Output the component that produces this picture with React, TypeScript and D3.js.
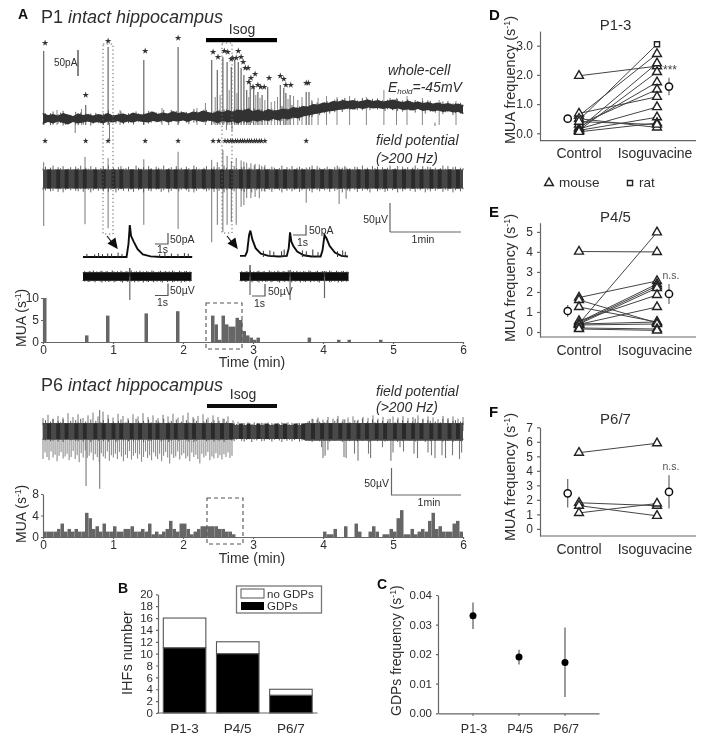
import React, { useEffect, useRef } from "react";
import * as d3 from "d3";

const W = 707, H = 744;
const FONT = "'Liberation Sans', Arial, sans-serif";
const INK = "#2e2e2e";

// ---- panel A, P1 traces (time in min, whole-cell in pA, field in uV)
const wcTop = [24,20,22,19,24,21,18,23,20,22,19,22,20,24,19,21,23,20,25,22,21,24,27,22,25,23,28,24,26,23,27,25,29,26,24,28,26,30,27,31,29,33,28,31,27,32,29,30,33,31,36,34,38,37,42,41,45,44,48,47,50,48,50,47,49,51,48,50,47,49,51,48,46,49,45,47,44,46,43,45,42,44,41,43,40];
const wcBot = [2,6,3,7,4,1,6,3,5,7,4,6,3,7,5,8,4,7,5,8,6,5,8,6,9,5,8,7,9,6,10,8,6,9,7,4,8,5,7,3,8,5,9,7,10,8,12,9,13,11,15,13,17,19,21,23,25,27,28,30,31,33,31,34,32,35,33,34,32,34,31,33,30,31,29,32,28,30,27,29,26,28,25,26,22];
const fuzz = [3,7,1,5,9,2,6,4,8,1,3,6,2,7,4,9,1,5,3,8,2,6,1,4,7,3,9,2,5,1,6,8,3,4,7,1,2,9,5,3,6,2,8,4,1,7,5,3,9,2,4,6,1,8,3,5,2,7,4,1,9,6,3,2,5,8,1,4,7,3,6,2,9,5,1,3,8,4,2,6,7,1,5,3,9,2,4,8,6,1,3,7,5,2,4,9,1,6,3,8,2,5,7,4,1,3,6,9,2,8,5,1,4,7,3,2,6,9,1,5,8,3,4,2,7,6,1,9,3,5,2,8,4,7,1,6,3,5,9,2,4,8,1,7,3,6,2,5,9,4,1,8,3,7,6,2,5,1,4,9,3,8,2,6,7,1,5,4];
const wcSpikeT = [0.01,0.61,0.93,1.44,1.93,2.41,2.49,2.57,2.63,2.69,2.74,2.79,2.83,2.87,2.91,2.96,3.01,3.07,3.13,3.21,3.39,3.44,3.47,3.53,3.76,3.8];
const wcSpikeP = [148,40,156,130,156,130,110,136,126,116,130,126,114,100,70,84,76,66,60,76,80,74,64,60,66,66];
const wcGrassT = [0.2,0.55,1.1,1.7,2.2,2.32,2.46,2.53,2.66,2.77,2.94,3.04,3.1,3.17,3.26,3.31,3.35,3.5,3.58,3.64,3.7,3.84,3.93,4.05,4.2,4.38,4.62,4.87,5.05,5.2,5.42,5.66,5.9];
const wcGrassP = [30,32,30,34,34,44,56,60,70,64,56,60,54,50,46,48,56,52,58,50,56,50,54,58,56,58,56,70,54,58,54,50,48];
const wcDownT = [0.46,0.95,2.62,2.7,5.6];
const wcDownP = [-16,-30,-10,-12,-2];
const wcStarT = [0.03,0.61,0.93,1.46,1.93,2.43,2.5,2.59,2.64,2.69,2.71,2.76,2.79,2.83,2.86,2.89,2.93,2.94,2.97,3.03,3,3.07,3.11,3.16,3.23,3.39,3.44,3.47,3.54,3.76,3.79];
const wcStarP = [164,60,168,148,174,146,136,148,146,132,134,134,148,136,126,114,114,86,94,102,76,80,76,76,94,98,92,80,80,84,84];

const stripeT = [0.06,0.19,0.31,0.45,0.57,0.72,0.84,0.98,1.09,1.24,1.36,1.5,1.61,1.76,1.87,2.02,2.13,2.27,2.4,2.53,2.66,2.8,2.91,3.05,3.17,3.31,3.43,3.58,3.69,3.83,3.96,4.08,4.22,4.34,4.48,4.6,4.74,4.86,5,5.13,5.26,5.38,5.52,5.64,5.78,5.9];
const fpSpikeT = [0.01,0.6,0.93,1.44,1.93,2.41,2.49,2.57,2.63,2.69,2.76,2.83,2.87,2.91,2.97,3.03,3.09,3.17,3.76,4.23,4.33];
const fpSpikeUp = [29,38,36,34,47,33,29,50,40,31,36,32,30,28,27,26,25,24,20,20,20];
const fpSpikeDn = [-81,-78,-85,-79,-86,-109,-79,-91,-79,-74,-79,-48,-45,-33,-33,-31,-33,-22,-41,-43,-34];
const fpStarT = [0.03,0.61,0.93,1.46,1.93,2.43,2.51,2.6,2.64,2.68,2.71,2.75,2.78,2.82,2.85,2.88,2.92,2.95,2.98,3.02,3.05,3.09,3.12,3.17,3.76];

// ---- panel A insets (time in s, pA / uV)
const inLeftT = [0,3.35,3.5,3.6,3.7,3.9,4.2,4.6,5.2,6,8.4];
const inLeftP = [0,0,60,145,95,70,35,12,3,0,0];
const inLeftBumpT = [0.3,0.9,1.2,1.5,1.9,2.2,2.7,3,5.9,6.3,6.8,7.3,7.8,8.1];
const inLeftBumpP = [14,12,18,13,16,15,20,14,13,22,16,14,18,15];
const inRightT = [0,0.4,0.55,0.7,0.8,0.95,1.2,1.6,2.2,3,3.6,3.75,3.85,3.95,4.1,4.4,4.9,5.5,6.2,6.35,6.5,6.65,6.9,7.3,7.8,8.3];
const inRightP = [5,5,25,100,120,80,40,15,5,2,5,40,112,70,50,25,8,2,2,30,100,85,50,20,5,2];
const inRightBumpT = [1.8,2.3,2.6,3.2,3.4,4.8,5.1,5.6,6,7.5,7.9,8.1];
const inRightBumpP = [28,30,24,26,34,30,26,34,22,26,30,24];
const inLeftFieldT = [3.6];
const inLeftFieldUp = [35];
const inLeftFieldDn = [-98];
const inRightFieldT = [0.77,3.85,6.5];
const inRightFieldUp = [48,27,22];
const inRightFieldDn = [-77,-98,-90];

// ---- MUA histogram P1, 0.05 min bins
const muaP1T = [0,0.6,0.9,1.45,1.9,2.4,2.45,2.5,2.55,2.6,2.65,2.7,2.75,2.8,2.85,2.9,2.95,3,3.05,3.78,4.2,4.35,4.8];
const muaP1V = [10,1.5,6,6.5,7,6,4,0.5,6,4,3.5,3.5,5.5,5,2.5,1.5,1,0.5,1,1,0.5,0.5,0.5];

// ---- P6 field trace
const p6CoreT = [0,2.7,2.75,3.7,3.75,6];
const p6CoreTop = [15,15,11,11,15,15];
const p6CoreBot = [-16,-16,-15,-15,-18,-18];
const p6High = [24,30,22,28,25,33,26,31,24,29,34,27,36,30,25,32,28,24,31,27,33,26,29,24,30,27,32,25,29,34,26,28,31,25,29,26,23,27,20,17,14,16,13,15,14,16,13,15,14,16,13,15,14,18,22,25,21,26,23,28,22,25,27,21,26,24,29,23,26,22,27,25,28,24,26,29,23,27,25,22,28,24,27,23,26];
const p6Low = [-52,-40,-48,-54,-38,-49,-44,-56,-46,-39,-51,-47,-42,-54,-48,-37,-52,-45,-58,-41,-49,-36,-50,-46,-40,-54,-43,-48,-58,-41,-47,-51,-38,-55,-45,-49,-42,-52,-39,-47,-56,-44,-50,-37,-53,-46,-41,-51,-43,-57,-48,-38,-50,-45,-54,-40,-47,-52,-42,-56,-46,-39,-49,-60,-43,-50,-47,-38,-53,-45,-41,-51,-47,-56,-40,-48,-44,-52,-60,-42,-49,-46,-39,-54,-47,-51,-41,-50,-45,-53,-43,-48,-40,-50,-46];
const p6SpikeT = [0.615,0.81,3.98,4.0,4.03,4.07,4.3,4.33,4.45,4.5,4.65,4.68,4.85,4.97,5,5.1,5.15,5.3,5.35,5.5,5.55,5.6,5.7,5.75,5.85,5.95,5.98];
const p6SpikeV = [-102,-107,-30,-50,-46,-35,-48,-50,-42,-55,-42,-50,-30,-55,-40,-30,-38,-42,-50,-40,-45,-50,-45,-50,-45,-52,-40];

const muaP6 = [1,1,1,1,1.5,2.5,1,1.5,1,1.5,1,1,4.5,3.5,1.5,2,1,2.5,1,1,2,1,1,1.5,1.5,2,1,1,1.5,1,2.5,0.5,1,0.5,1,1.5,3,1.5,1,2.5,2.5,1.5,0.5,1,1.5,2,2,2,2,2,1.5,1.5,1,1,0.5,0,0,0,0,0,0,0,0,0,0,0,0,0,0,0,0,0,0,0,0,0,0,0,0,0,1,0.5,0.5,1.5,0,0,2,0,0,2.5,1,0,0,1,2,1,0,0.5,0.5,1.5,1,3.5,5,0.5,0.5,1.5,0.5,1,1.5,1,3,4.5,1.5,2,1,1,1,2.5,3,1];

// ---- panels D, E, F: control -> isoguvacine pairs
const conds = ["Control", "Isoguvacine"];
const ctrlD = [1.97,0.45,0.6,0.15,0.1,0.2,0.3,0.68,0.15,0.1,0.05,0.5,0.4];
const isoD = [2.3,3.05,2.72,2.4,2.1,1.75,1.5,1.25,0.9,0.55,0.35,0.2,0.3];
const ratD = [false,true,false,false,false,false,false,false,false,false,false,false,false];
const meanD = [0.5,1.6];
const errD = [0.04,0.3];
const ctrlE = [4.02,0.42,1.72,0.5,0.45,0.4,0.55,0.38,1.6,1.25,0.4,0.35,0.2,0.15];
const isoE = [4,4.98,2.55,2.4,2.3,2.2,1.85,1.25,0.45,0.5,0.5,0.4,0.15,0.08];
const meanE = [1.05,1.9];
const errE = [0.3,0.5];
const ctrlF = [5.25,1.8,1.6,1.1];
const isoF = [5.9,1.6,0.9,1.75];
const meanF = [2.45,2.55];
const errF = [0.98,1.15];

// ---- panel B
const ages = ["P1-3", "P4/5", "P6/7"];
const gdps = [11,10,3];
const noGdps = [5,2,1];
const ihfTicks = [0,2,4,6,8,10,12,14,16,18,20];

// ---- panel C
const gdpFreq = [0.033,0.019,0.0172];
const gdpLo = [0.0285,0.0165,0.0055];
const gdpHi = [0.0375,0.0215,0.029];

const timeX = d3.scaleLinear([0, 6], [43, 463]);
const timeTicks = [0,1,2,3,4,5,6];
const wcY = d3.scaleLinear([0, 50], [125, 100]);
const fpY = d3.scaleLinear([0, 50], [179, 150]);
const p6Y = d3.scaleLinear([0, 50], [431, 404]);
const gridT = (n: number, i: number, end = 6) => (i / (n - 1)) * end;
const fuzzRev = [...fuzz].reverse();

function Axis({ scale, side, at, ticks, fmt = d3.format("d"), size = 3, font = 12, pad = 3 }: any) {
  const ref = useRef<SVGGElement>(null);
  useEffect(() => {
    const ax = (side === "left" ? d3.axisLeft(scale) : d3.axisBottom(scale))
      .tickValues(ticks).tickSize(size).tickSizeOuter(0).tickPadding(pad).tickFormat(fmt);
    const g = d3.select(ref.current);
    g.call(ax as any);
    g.selectAll("line,path").attr("stroke", "#666").attr("stroke-width", 1.2);
    g.selectAll("text").attr("fill", INK).attr("font-family", FONT).attr("font-size", font);
  }, []);
  return <g ref={ref} transform={side === "left" ? `translate(${at},0)` : `translate(0,${at})`} />;
}

const T = ({ x, y, s = 12, anchor = "start", bold = false, it = false, fill = INK, rot, children }: any) => (
  <text
    x={rot ? 0 : x} y={rot ? 0 : y}
    transform={rot ? `translate(${x},${y}) rotate(${rot})` : undefined}
    fontSize={s} textAnchor={anchor} fontWeight={bold ? "bold" : "normal"}
    fontStyle={it ? "italic" : "normal"} fill={fill} fontFamily={FONT}
  >{children}</text>
);

const Sup1 = () => <tspan dy={-5} fontSize="0.62em">-1</tspan>;

function Star({ x, y, r = 13, fill = "#333" }: any) {
  return <path d={d3.symbol(d3.symbolStar, r)() as string} transform={`translate(${x},${y})`} fill={fill} />;
}

// vertical bars from a zero line (traces' spikes)
function Spikes({ ts, vs, y, base = 0, x = timeX, stroke = "#777", w = 1 }: any) {
  return <g stroke={stroke} strokeWidth={w}>
    {ts.map((t: number, i: number) => <line key={i} x1={x(t)} x2={x(t)} y1={y(base)} y2={y(vs[i])} />)}
  </g>;
}

// fine noise at the edge of a trace band
function Fringe({ edge, amp, y, x = timeX, end = 6, list = fuzz, stroke = "#4a4a4a" }: any) {
  return <g stroke={stroke} strokeWidth={0.9}>
    {list.map((f: number, i: number) => {
      const t = gridT(list.length, i, end);
      const e = edge(t);
      return <line key={i} x1={x(t)} x2={x(t)} y1={y(e)} y2={y(e + f * amp)} />;
    })}
  </g>;
}

function Band({ ts, top, bot, y, x = timeX, fill = "#333" }: any) {
  const a = d3.area<number>().x((_, i) => x(ts[i])).y0((_, i) => y(bot[i])).y1((_, i) => y(top[i]));
  return <path d={a(ts) as string} fill={fill} />;
}

function Stripes({ y0, y1, fill = "#1a1a1a" }: any) {
  return <g fill={fill}>
    {stripeT.map((t, i) => <rect key={i} x={timeX(t)} width={timeX(0.055) - timeX(0)} y={y0} height={y1 - y0} />)}
  </g>;
}

function Hist({ ts, vs, y }: any) {
  return <g fill="#666">
    {ts.map((t: number, i: number) => vs[i] > 0 && (
      <rect key={i} x={timeX(t)} y={y(vs[i])} width={timeX(t + 0.05) - timeX(t)} height={y(0) - y(vs[i])} />
    ))}
  </g>;
}

function Inset({ x0, ts, ps, bumps, bumpP, fT, fUp, fDn }: any) {
  const x = d3.scaleLinear([0, 1], [x0, x0 + 13]);
  const pY = d3.scaleLinear([0, 50], [257, 246]);
  const fY = d3.scaleLinear([0, 50], [276.5, 264.5]);
  const line = d3.line<number>().x((_, i) => x(ts[i])).y((_, i) => pY(ps[i]));
  const noise = fuzz.slice(20, 84);
  return <g>
    <path d={line(ts) as string} fill="none" stroke="#111" strokeWidth={1.9} />
    <Spikes ts={bumps} vs={bumpP} y={pY} x={x} stroke="#333" />
    <rect x={x(0)} width={x(8.35) - x(0)} y={fY(18)} height={fY(-18) - fY(18)} fill="#111" />
    <Fringe edge={() => 16} amp={1} y={fY} x={x} end={8.35} list={noise} stroke="#222" />
    <Fringe edge={() => -16} amp={-1} y={fY} x={x} end={8.35} list={[...noise].reverse()} stroke="#222" />
    <Spikes ts={fT} vs={fUp} y={fY} x={x} stroke="#333" w={1.2} />
    <Spikes ts={fT} vs={fDn} y={fY} x={x} stroke="#666" w={1.2} />
  </g>;
}

function ScaleBar({ x, y, w, h, stroke = "#555" }: any) {
  return <path d={`M${x},${y} h${w} v${-h}`} fill="none" stroke={stroke} strokeWidth={1.2} />;
}

function Pairs({ y, ctrl, iso, rat, mean, err, ticks, fmt, axisBottom, title, titleY, letter, letterY, ns, labelY }: any) {
  const x = d3.scalePoint(conds, [579, 657]);
  const tri = d3.symbol(d3.symbolTriangle, 34)() as string;
  const sq = d3.symbol(d3.symbolSquare, 26)() as string;
  const mx = [567.7, 669];
  const marker = (px: number, py: number, isRat: boolean, k: string) => (
    <path key={k} d={isRat ? sq : tri} transform={`translate(${px},${py})`} fill="#fff" stroke="#222" strokeWidth={1.4} />
  );
  return <g>
    <T x={489} y={letterY} s={15} bold fill="#111">{letter}</T>
    <T x={615.5} y={titleY} s={15} anchor="middle">{title}</T>
    <Axis scale={y} side="left" at={540} ticks={ticks} fmt={fmt} font={12} pad={4} />
    <line x1={540} x2={696} y1={axisBottom} y2={axisBottom} stroke="#666" strokeWidth={1.2} />
    {ctrl.map((c: number, i: number) => (
      <line key={i} x1={x("Control")} x2={x("Isoguvacine")} y1={y(c)} y2={y(iso[i])} stroke="#444" strokeWidth={1} />
    ))}
    {ctrl.map((c: number, i: number) => marker(x("Control")!, y(c), !!rat && rat[i], `c${i}`))}
    {iso.map((c: number, i: number) => marker(x("Isoguvacine")!, y(c), !!rat && rat[i], `i${i}`))}
    {mean.map((m: number, i: number) => <g key={i}>
      <line x1={mx[i]} x2={mx[i]} y1={y(m - err[i])} y2={y(m + err[i])} stroke="#666" strokeWidth={1.2} />
      <circle cx={mx[i]} cy={y(m)} r={3.6} fill="#fff" stroke="#111" strokeWidth={1.5} />
    </g>)}
    <T x={579} y={labelY} s={14} anchor="middle">Control</T>
    <T x={655} y={labelY} s={14} anchor="middle">Isoguvacine</T>
    {ns}
  </g>;
}

export default function App() {
  const wcGrid = wcTop.map((_, i) => gridT(wcTop.length, i));
  const p6HighT = p6High.map((_, i) => gridT(p6High.length, i));
  const p6LowT = p6Low.map((_, i) => gridT(p6Low.length, i, 2.7));
  const muaP6T = muaP6.map((_, i) => i * 0.05);
  const nearest = (arr: number[], t: number) => arr[Math.round((t / 6) * (arr.length - 1))];

  const muaY1 = d3.scaleLinear([0, 10], [342, 298]);
  const muaY6 = d3.scaleLinear([0, 8], [537, 494]);
  const yD = d3.scaleLinear([-0.25, 3.5], [140.6, 31.1]);
  const yE = d3.scaleLinear([-0.25, 5.46], [337, 222.7]);
  const yF = d3.scaleLinear([-0.49, 7], [536, 427.3]);

  const bX = d3.scaleBand(ages, [158, 317.5]).paddingInner(0.2).paddingOuter(0.1);
  const bY = d3.scaleLinear([0, 20], [713, 594.3]);
  const stack = d3.stack<any>().keys(["gdps", "no"])(ages.map((a, i) => ({ age: a, gdps: gdps[i], no: noGdps[i] })));

  const cX = d3.scalePoint(ages, [473, 565]);
  const cY = d3.scaleLinear([0, 0.04], [713.3, 595]);

  const triIcon = d3.symbol(d3.symbolTriangle, 34)() as string;
  const sqIcon = d3.symbol(d3.symbolSquare, 26)() as string;

  return (
    <svg width={W} height={H} viewBox={`0 0 ${W} ${H}`} style={{ position: "absolute", left: 0, top: 0, background: "#fff" }}>
      <defs>
        <filter id="soft" x="0" y="0" width="100%" height="100%">
          <feGaussianBlur stdDeviation="0.35" />
        </filter>
      </defs>
      <g filter="url(#soft)">
        {/* A: P1 */}
        <T x={18} y={19} s={14} bold fill="#111">A</T>
        <text x={41} y={23} fontSize={18} fill={INK} fontFamily={FONT}>P1 <tspan fontStyle="italic">intact hippocampus</tspan></text>
        <T x={242} y={34} s={14} anchor="middle">Isog</T>
        <rect x={206} y={38} width={71} height={4.2} fill="#000" />

        <Spikes ts={wcGrassT} vs={wcGrassP} y={wcY} stroke="#888" />
        <Spikes ts={wcSpikeT} vs={wcSpikeP} y={wcY} stroke="#666" w={1.2} />
        <Spikes ts={wcDownT} vs={wcDownP} y={wcY} stroke="#777" base={5} />
        <Fringe edge={(t: number) => nearest(wcTop, t) - 3} amp={0.9} y={wcY} />
        <Fringe edge={(t: number) => nearest(wcBot, t) + 3} amp={-0.9} y={wcY} list={fuzzRev} />
        <Band ts={wcGrid} top={wcTop} bot={wcBot} y={wcY} fill="#333" />
        {wcStarT.map((t, i) => <Star key={i} x={timeX(t)} y={wcY(wcStarP[i])} />)}
        <ScaleBar x={78} y={76} w={0} h={26} stroke="#333" />
        <T x={54} y={66} s={10}>50pA</T>
        <T x={388} y={75} s={14} it>whole-cell</T>
        <text x={388} y={92} fontSize={14} fontStyle="italic" fill={INK} fontFamily={FONT}>E<tspan fontSize={8} dy={2}>hold</tspan><tspan dy={-2}>=-45mV</tspan></text>

        {fpStarT.map((t, i) => <Star key={i} x={timeX(t)} y={141} r={11} />)}
        <T x={376} y={145} s={14} it>field potential</T>
        <T x={376} y={163} s={14} it>(&gt;200 Hz)</T>
        <Spikes ts={fpSpikeT} vs={fpSpikeDn} y={fpY} stroke="#777" />
        <Spikes ts={fpSpikeT} vs={fpSpikeUp} y={fpY} stroke="#777" />
        <Fringe edge={() => 15} amp={0.9} y={fpY} stroke="#555" />
        <Fringe edge={() => -15} amp={-0.9} y={fpY} list={fuzzRev} stroke="#555" />
        <rect x={43} width={420} y={169.5} height={19} fill="#444" />
        <Stripes y0={169.5} y1={188.5} fill="#2a2a2a" />

        <g fill="none" stroke="#666" strokeWidth={1} strokeDasharray="1.3 2.6">
          <rect x={103} y={44} width={10} height={190} />
          <rect x={222} y={43} width={10} height={190} />
        </g>
        <g stroke="#111" strokeWidth={1.2} fill="#111">
          <line x1={107} y1={236} x2={114} y2={245} />
          <path d="M117,248 L108.5,243.5 L115,238.5 Z" />
          <line x1={227} y1={236} x2={234} y2={245} />
          <path d="M237,248 L228.5,243.5 L235,238.5 Z" />
        </g>

        <ScaleBar x={390} y={232} w={0} h={29} stroke="#666" />
        <line x1={390} x2={461} y1={232} y2={232} stroke="#666" strokeWidth={1.2} />
        <T x={388} y={223} s={10.5} anchor="end">50µV</T>
        <T x={423} y={243} s={10.5} anchor="middle">1min</T>

        <Inset x0={83} ts={inLeftT} ps={inLeftP} bumps={inLeftBumpT} bumpP={inLeftBumpP} fT={inLeftFieldT} fUp={inLeftFieldUp} fDn={inLeftFieldDn} />
        <Inset x0={240} ts={inRightT} ps={inRightP} bumps={inRightBumpT} bumpP={inRightBumpP} fT={inRightFieldT} fUp={inRightFieldUp} fDn={inRightFieldDn} />
        <ScaleBar x={155} y={244} w={13} h={11} />
        <T x={170} y={243} s={10.5}>50pA</T>
        <T x={157} y={253} s={10.5}>1s</T>
        <ScaleBar x={293} y={235} w={13} h={10} />
        <T x={309} y={234} s={10.5}>50pA</T>
        <T x={297} y={246} s={10.5}>1s</T>
        <ScaleBar x={155} y={295.5} w={13} h={12} />
        <T x={170} y={294} s={10.5}>50µV</T>
        <T x={157} y={306} s={10.5}>1s</T>
        <ScaleBar x={252} y={296} w={13} h={12} />
        <T x={268} y={295} s={10.5}>50µV</T>
        <T x={254} y={307} s={10.5}>1s</T>

        <Hist ts={muaP1T} vs={muaP1V} y={muaY1} />
        <Axis scale={muaY1} side="left" at={43} ticks={[0,5,10]} size={2} font={12} pad={2} />
        <Axis scale={timeX} side="bottom" at={342} ticks={timeTicks} size={2} font={12} pad={1} />
        <T x={252} y={367} s={14} anchor="middle">Time (min)</T>
        <text transform="translate(26,347) rotate(-90)" fontSize={14} fill={INK} fontFamily={FONT}>MUA (s<Sup1 /><tspan dy={5}>)</tspan></text>
        <rect x={206} y={303} width={36} height={46} fill="none" stroke="#555" strokeWidth={1.1} strokeDasharray="4 3" />

        {/* A: P6 */}
        <text x={41} y={391} fontSize={18} fill={INK} fontFamily={FONT}>P6 <tspan fontStyle="italic">intact hippocampus</tspan></text>
        <T x={243} y={399} s={14} anchor="middle">Isog</T>
        <rect x={207} y={404} width={70} height={4} fill="#111" />
        <T x={376} y={396} s={14} it>field potential</T>
        <T x={376} y={412} s={14} it>(&gt;200 Hz)</T>

        <Spikes ts={p6LowT} vs={p6Low} y={p6Y} stroke="#8c8c8c" w={1.1} />
        <Spikes ts={p6SpikeT} vs={p6SpikeV} y={p6Y} stroke="#777" w={1.1} />
        <Spikes ts={[0.81]} vs={[39]} y={p6Y} stroke="#666" />
        <Spikes ts={p6HighT} vs={p6High} y={p6Y} stroke="#666" w={0.9} />
        <Fringe edge={() => 11} amp={1.3} y={p6Y}
          list={fuzz.map((f, i) => (i / fuzz.length * 6 > 2.7 && i / fuzz.length * 6 < 3.7 ? f * 0.4 : f))} />
        <Fringe edge={() => -14} amp={-0.7} y={p6Y} list={fuzzRev} />
        <Band ts={p6CoreT} top={p6CoreTop} bot={p6CoreBot} y={p6Y} fill="#484848" />
        <Stripes y0={423.5} y1={439} fill="#2a2a2a" />

        <ScaleBar x={391.5} y={495} w={0} h={27} stroke="#666" />
        <line x1={391} x2={461} y1={495} y2={495} stroke="#666" strokeWidth={1.2} />
        <T x={389} y={487} s={10.5} anchor="end">50µV</T>
        <T x={429} y={506} s={10.5} anchor="middle">1min</T>

        <Hist ts={muaP6T} vs={muaP6} y={muaY6} />
        <Axis scale={muaY6} side="left" at={43} ticks={[0,4,8]} size={2} font={12} pad={2} />
        <Axis scale={timeX} side="bottom" at={537} ticks={timeTicks} size={2} font={12} pad={1} />
        <T x={252} y={563} s={14} anchor="middle">Time (min)</T>
        <text transform="translate(26,543) rotate(-90)" fontSize={14} fill={INK} fontFamily={FONT}>MUA (s<Sup1 /><tspan dy={5}>)</tspan></text>
        <rect x={207} y={498} width={36} height={46} fill="none" stroke="#555" strokeWidth={1.1} strokeDasharray="4 3" />

        {/* D, E, F */}
        <Pairs y={yD} ctrl={ctrlD} iso={isoD} rat={ratD} mean={meanD} err={errD}
          ticks={[0,1,2,3]} fmt={d3.format(".1f")} axisBottom={140.6} title="P1-3" titleY={30} letter="D" letterY={20} labelY={158}
          ns={<T x={670} y={74} s={12} anchor="middle" fill="#444">***</T>} />
        <text transform="translate(515,144) rotate(-90)" fontSize={14.5} fill={INK} fontFamily={FONT}>MUA frequency (s<Sup1 /><tspan dy={5}>)</tspan></text>
        <path d={triIcon} transform="translate(549,183)" fill="#fff" stroke="#222" strokeWidth={1.4} />
        <T x={559} y={187} s={13.5}>mouse</T>
        <path d={sqIcon} transform="translate(630,183)" fill="#fff" stroke="#222" strokeWidth={1.4} />
        <T x={639} y={187} s={13.5}>rat</T>

        <Pairs y={yE} ctrl={ctrlE} iso={isoE} mean={meanE} err={errE}
          ticks={[0,1,2,3,4,5]} axisBottom={337} title="P4/5" titleY={222} letter="E" letterY={217} labelY={355}
          ns={<T x={671} y={279} s={10.5} anchor="middle" fill="#555">n.s.</T>} />
        <text transform="translate(515,342) rotate(-90)" fontSize={14.5} fill={INK} fontFamily={FONT}>MUA frequency (s<Sup1 /><tspan dy={5}>)</tspan></text>

        <Pairs y={yF} ctrl={ctrlF} iso={isoF} mean={meanF} err={errF}
          ticks={[0,1,2,3,4,5,6,7]} axisBottom={536} title="P6/7" titleY={424} letter="F" letterY={417} labelY={554}
          ns={<T x={671} y={470} s={10.5} anchor="middle" fill="#555">n.s.</T>} />
        <text transform="translate(515,541) rotate(-90)" fontSize={14.5} fill={INK} fontFamily={FONT}>MUA frequency (s<Sup1 /><tspan dy={5}>)</tspan></text>

        {/* B */}
        <T x={118} y={593} s={14} bold fill="#111">B</T>
        {stack.map((layer) => layer.map((d, i) => (
          <rect key={`${layer.key}${i}`} x={bX(ages[i])} width={bX.bandwidth()} y={bY(d[1])} height={bY(d[0]) - bY(d[1])}
            fill={layer.key === "gdps" ? "#000" : "#fff"} stroke="#555" strokeWidth={1.1} />
        )))}
        <Axis scale={bY} side="left" at={158} ticks={ihfTicks} size={2} font={11.5} pad={3} />
        <line x1={157} x2={317.5} y1={713} y2={713} stroke="#666" strokeWidth={1.2} />
        {ages.map((a, i) => <T key={a} x={bX(a)! + bX.bandwidth() / 2} y={733} s={13.5} anchor="middle">{a}</T>)}
        <T x={132} y={653} s={14.5} anchor="middle" rot={-90}>IHFs number</T>
        <rect x={236.5} y={586} width={85} height={27} fill="#fff" stroke="#777" strokeWidth={1.3} />
        <rect x={241} y={589} width={23} height={9} fill="#fff" stroke="#555" />
        <rect x={241} y={602} width={23} height={8} fill="#000" />
        <T x={267} y={598} s={11.5}>no GDPs</T>
        <T x={267} y={610} s={11.5}>GDPs</T>

        {/* C */}
        <T x={377} y={589} s={14} bold fill="#111">C</T>
        <Axis scale={cY} side="left" at={438} ticks={[0,0.01,0.02,0.03,0.04]} fmt={d3.format(".2f")} size={2} font={11.5} pad={4} />
        <Axis scale={d3.scaleLinear([0, 100], [438, 599])} side="bottom" at={713.3} ticks={[]} size={0} />
        {ages.map((a, i) => <g key={a}>
          <line x1={cX(a)} x2={cX(a)} y1={713.3} y2={716} stroke="#666" />
          <T x={cX(a)! + 1} y={733} s={12.5} anchor="middle">{a}</T>
          <line x1={cX(a)} x2={cX(a)} y1={cY(gdpLo[i])} y2={cY(gdpHi[i])} stroke="#666" strokeWidth={1.3} />
          <circle cx={cX(a)} cy={cY(gdpFreq[i])} r={3.5} fill="#000" />
        </g>)}
        <text transform="translate(401,716) rotate(-90)" fontSize={14} fill={INK} fontFamily={FONT}>GDPs frequency (s<Sup1 /><tspan dy={5}>)</tspan></text>
      </g>
    </svg>
  );
}
